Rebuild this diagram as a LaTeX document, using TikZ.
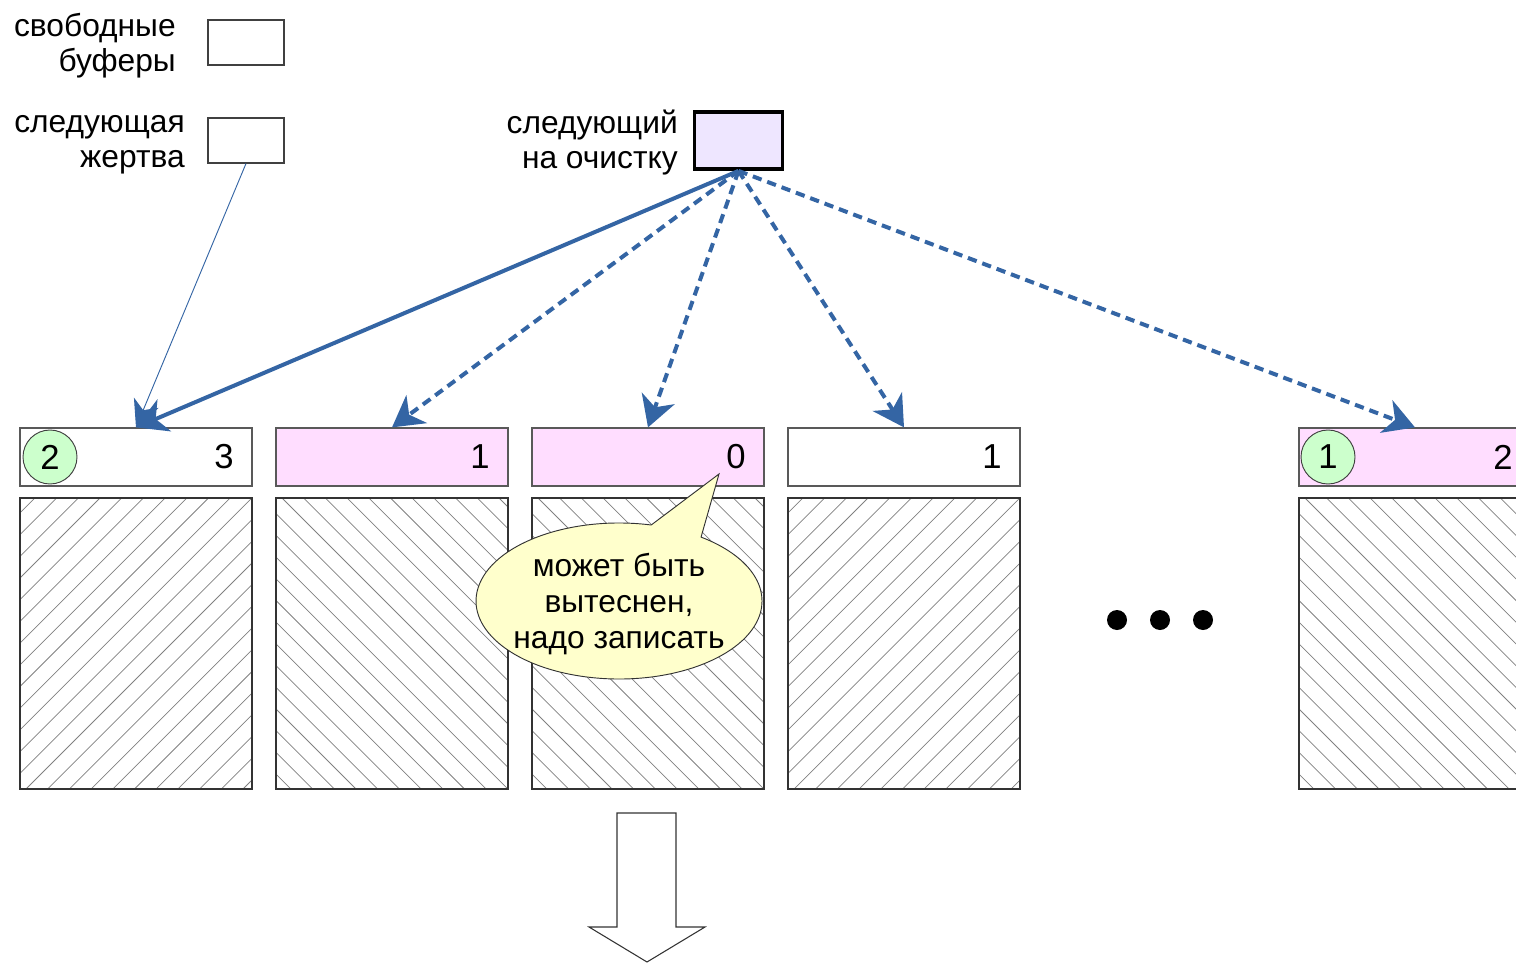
\documentclass[tikz,border=0pt]{standalone}
\usepackage{fontspec}
\setmainfont{Liberation Sans}
\usetikzlibrary{arrows.meta}
\definecolor{lo}{HTML}{3465A4}
\definecolor{pinkf}{HTML}{FFDDFF}
\definecolor{lavf}{HTML}{EEE6FF}
\definecolor{greenf}{HTML}{CCFFCC}
\definecolor{yelf}{HTML}{FFFFCC}
\begin{document}
\begin{tikzpicture}[x=0.75pt,y=-0.75pt,
  lbl/.style={font=\fontsize{23.8}{26.25}\selectfont, align=right, inner sep=0pt},
  num/.style={font=\fontsize{26}{30}\selectfont, inner sep=0pt},
  legendbox/.style={draw=black!75, line width=0.8pt, minimum width=57pt, minimum height=33.75pt, inner sep=0pt},
  cleanbox/.style={draw=black, line width=2.6pt, fill=lavf, minimum width=66pt, minimum height=43pt, inner sep=0pt},
  hdr/.style={draw=black!65, line width=0.9pt, minimum width=174pt, minimum height=43.5pt, inner sep=0pt},
  databox/.style={draw=black!80, line width=0.9pt, minimum width=174pt, minimum height=218.25pt, inner sep=0pt},
  hatch/.style={draw=black!50, line width=0.55pt},
  circ/.style={circle, draw=black!75, line width=0.7pt, fill=greenf, minimum size=40.5pt, inner sep=0pt, font=\fontsize{26}{30}\selectfont},
  conn/.style={draw=lo, line width=3pt, -{Stealth[length=23pt,width=26pt,inset=7pt]}},
  dconn/.style={conn, dash pattern=on 7pt off 4.5pt},
  thinconn/.style={draw=lo, line width=0.7pt, -{Stealth[length=20pt,width=20pt,inset=6pt]}},
  bubble/.style={draw=black!80, line width=0.7pt, fill=yelf},
  bigarrow/.style={draw=black!80, line width=0.8pt, fill=white},
]
\useasboundingbox (0,0) rectangle (1516,963);

% legend
\node[lbl, anchor=east] (freelbl) at (176,45.5) {свободные\\буферы};
\node[legendbox] (free) at (246,42.5) {};
\node[lbl, anchor=east] (victimlbl) at (185,145) {следующая\\жертва};
\node[legendbox] (victim) at (246,140.5) {};
\node[lbl, anchor=east] (cleanlbl) at (678,143) {следующий\\на очистку};
\node[cleanbox] (clean) at (738.5,140.5) {};

% data boxes with hatching
\foreach \xl/\dir [count=\n] in {20/1, 276/-1, 532/-1, 788/1, 1299/-1} {
  \begin{scope}
    \clip (\xl,498) rectangle ++(232,291);
    \foreach \i in {-14,...,12} {
      \pgfmathsetmacro{\o}{\xl+\i*21.7+6}
      \ifnum\dir=1
        \draw[hatch] (\o,789) -- ++(291,-291);
      \else
        \draw[hatch] (\o,498) -- ++(291,291);
      \fi
    }
  \end{scope}
  \node[databox] (d\n) at (\xl+116,643.5) {};
}

% headers
\node[hdr] (h1) at (136,457) {};
\node[hdr, fill=pinkf] (h2) at (392,457) {};
\node[hdr, fill=pinkf] (h3) at (648,457) {};
\node[hdr] (h4) at (904,457) {};
\node[hdr, fill=pinkf] (h5) at (1415,457) {};

\node[num, anchor=east] (n1) at (234,457) {3};
\node[num, anchor=east] (n2) at (490,457) {1};
\node[num, anchor=east] (n3) at (746,457) {0};
\node[num, anchor=east] (n4) at (1002,457) {1};
\node[num, anchor=east] (n5) at (1513,457) {2};

\node[circ] (c1) at (50,457) {2};
\node[circ] (c5) at (1328,457) {1};

% dots
\fill (1117,620) circle[radius=7.5pt];
\fill (1160,620) circle[radius=7.5pt];
\fill (1203,620) circle[radius=7.5pt];

% callout
\coordinate (tip) at (719,474);
\path[bubble] (651.2,525.0) arc[start angle=77, end angle=415, x radius=107.25pt, y radius=58.5pt] -- (tip) -- cycle;
\node[lbl, align=center, font=\fontsize{23.8}{27}\selectfont] (note) at (619,604) {может быть\\вытеснен,\\надо записать};

% big down arrow
\path[bigarrow] (617,813) -- (676,813) -- (676,927) -- (705,927) -- (647,962) -- (589,927) -- (617,927) -- cycle;

% connectors
\draw[thinconn] (victim.south) -- (h1.north);
\draw[conn] (clean.south) -- (h1.north);
\draw[dconn] (clean.south) -- (h2.north);
\draw[dconn] (clean.south) -- (h3.north);
\draw[dconn] (clean.south) -- (h4.north);
\draw[dconn] (clean.south) -- (h5.north);
\end{tikzpicture}
\end{document}
